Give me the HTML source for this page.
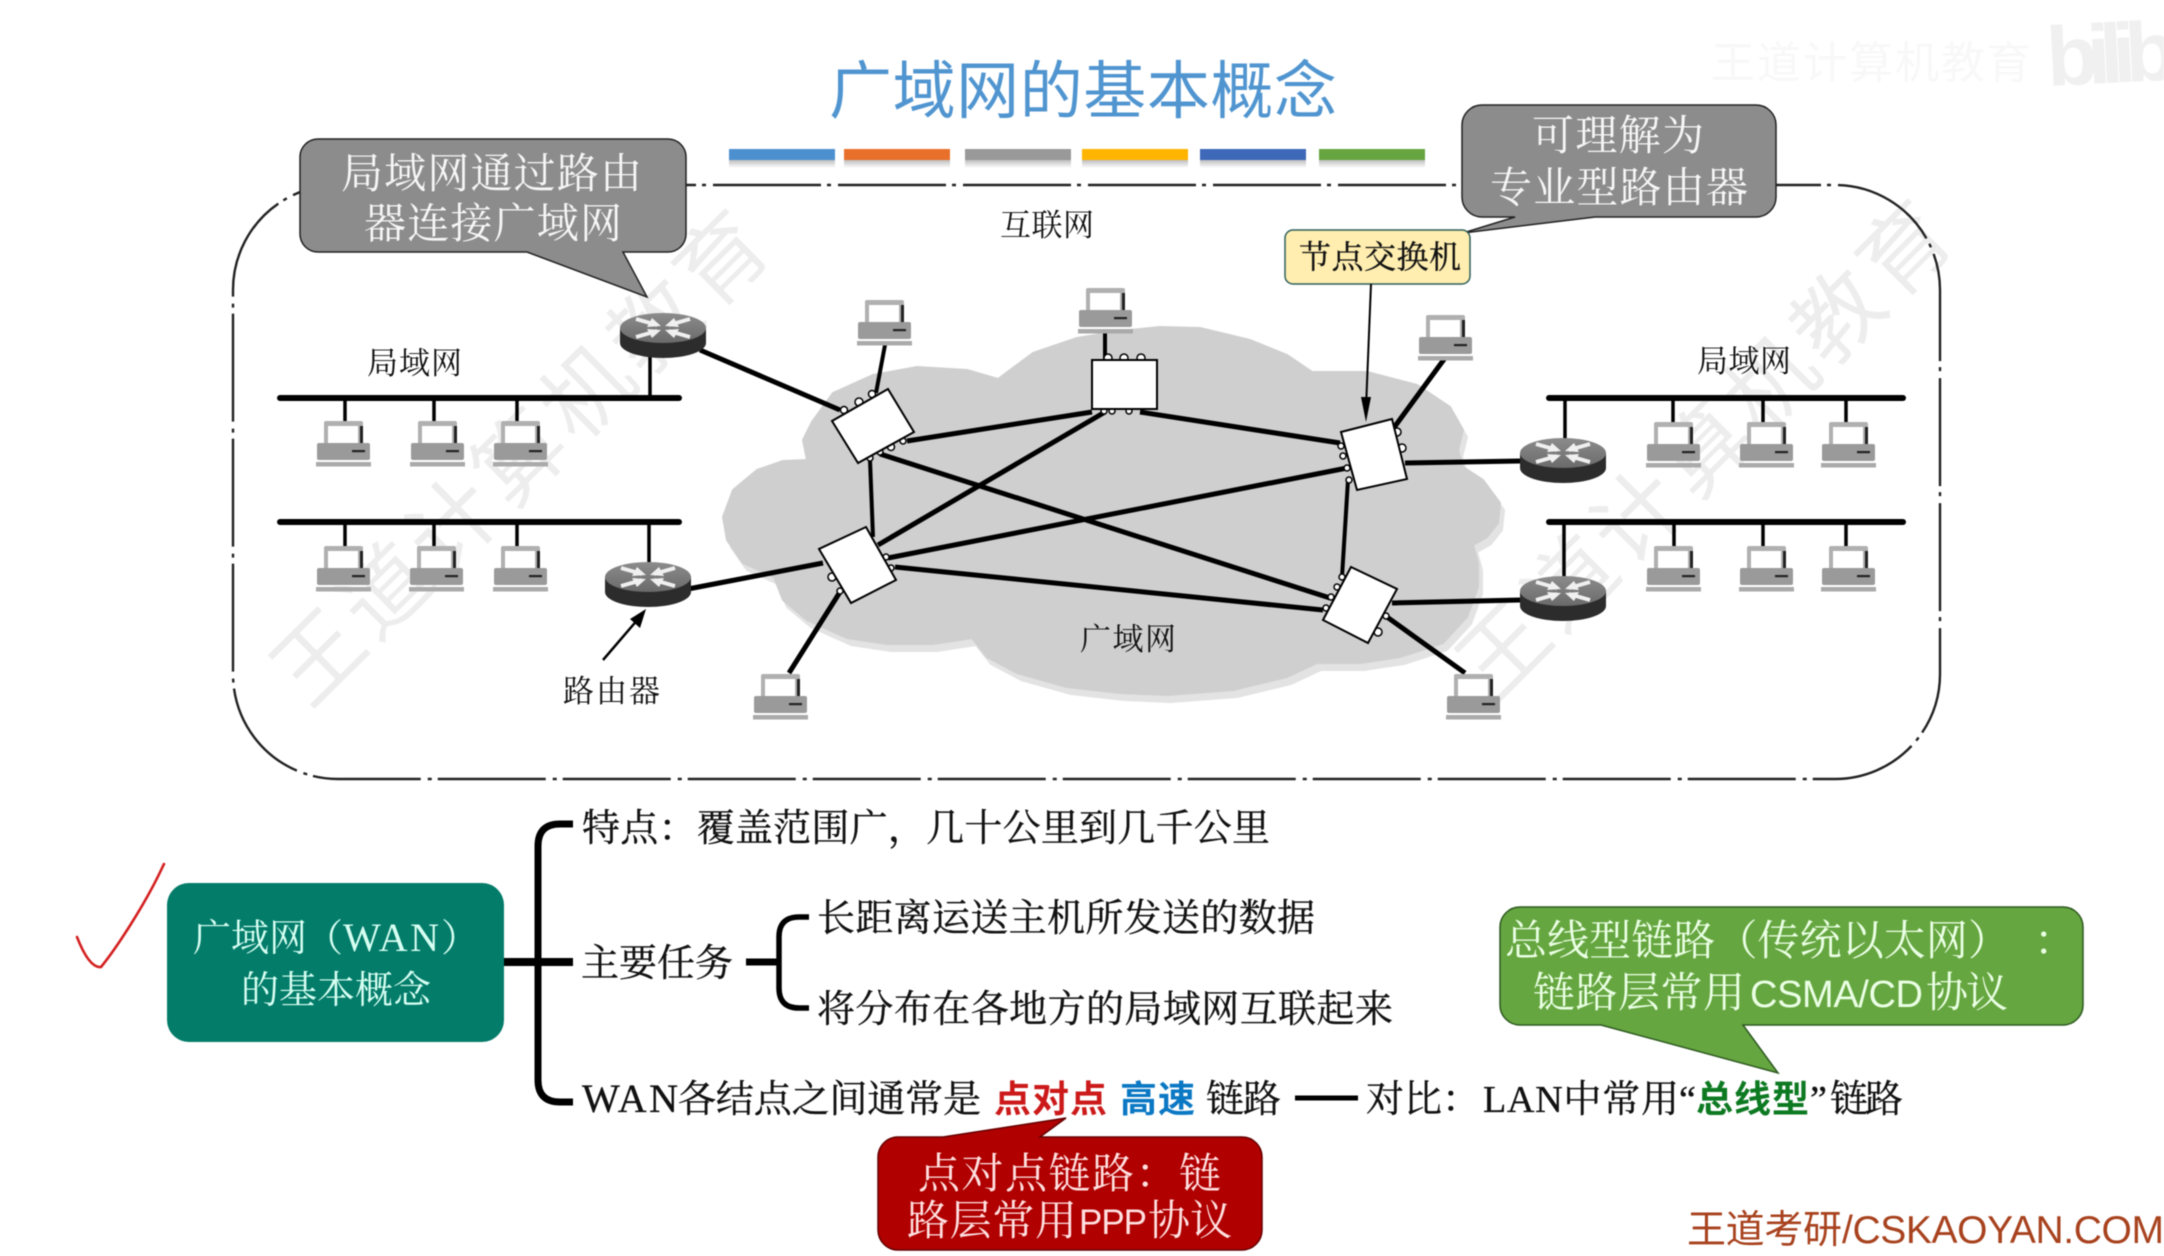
<!DOCTYPE html>
<html lang="zh"><head><meta charset="utf-8"><title>广域网的基本概念</title>
<style>
html,body{margin:0;padding:0;background:#fff;width:2164px;height:1256px;overflow:hidden}
svg{display:block;filter:blur(.5px)}
text{font-family:"Liberation Serif","Noto Serif CJK SC",serif;fill:#111}
.s{font-family:"Liberation Sans","Noto Sans CJK SC",sans-serif}
.b{font-family:"Liberation Sans","Noto Sans CJK SC",sans-serif;font-weight:700}
.w{fill:#f6f6f6}
.k{stroke:#111;stroke-width:.35}
.l{stroke:#000;stroke-width:5;fill:none}
.t{stroke:#000;stroke-width:4;fill:none}
.bus{stroke:#000;stroke-width:6;stroke-linecap:round}
.sw{fill:#fff;stroke:#000;stroke-width:2}
.bp{fill:#fff;stroke:#000;stroke-width:1.5}
</style></head><body>
<svg xmlns="http://www.w3.org/2000/svg" width="2164" height="1256" viewBox="0 0 2164 1256">
<defs>
<linearGradient id="sh" x1="0" y1="0" x2="0" y2="1"><stop offset="0" stop-color="#888" stop-opacity=".55"/><stop offset="1" stop-color="#888" stop-opacity="0"/></linearGradient>
<linearGradient id="rg" x1="0" y1="0" x2="0" y2="1"><stop offset="0" stop-color="#8c8c8c"/><stop offset="1" stop-color="#6a6a6a"/></linearGradient>
<g id="pc">
<rect x="8" y="1" width="39" height="24" rx="2" fill="#b0b0b0"/>
<rect x="12" y="6" width="30" height="19" fill="#fff"/>
<rect x="44" y="6" width="3" height="18" fill="#222"/>
<rect x="1" y="23" width="53" height="17" rx="2" fill="#9a9a9a"/>
<rect x="36" y="30" width="13" height="2.2" fill="#222"/>
<rect x="0" y="42" width="55" height="4.5" fill="#aaa"/>
</g>
<g id="rt">
<path d="M0,15 V30 A43,15 0 0 0 86,30 V15 Z" fill="#2c2c2c"/>
<ellipse cx="43" cy="15" rx="43" ry="15" fill="url(#rg)"/>
<path d="M16,6 L37,12 M70,6 L49,12 M16,24 L37,18 M70,24 L49,18" stroke="#f0f0f0" stroke-width="4" fill="none"/>
<path d="M32,5 L41,13 L27,14 Z M54,5 L45,13 L59,14 Z M32,25 L41,17 L27,16 Z M54,25 L45,17 L59,16 Z" fill="#f0f0f0"/>
</g>
</defs>

<!-- faint top-right marks -->
<text class="s" x="1711" y="78" font-size="44" textLength="320" style="fill:#f8f8f8">王道计算机教育</text>
<text class="b" x="2048" y="86" font-size="84" textLength="130" transform="rotate(-3 2048 86)" style="fill:#f0f0f0">bilib</text>

<!-- watermarks -->
<text class="s" x="309" y="710" font-size="88" textLength="654" transform="rotate(-44.6 309 710)" style="fill:#000;fill-opacity:.07">王道计算机教育</text>
<text class="s" x="1495" y="703" font-size="88" textLength="654" transform="rotate(-45 1495 703)" style="fill:#000;fill-opacity:.07">王道计算机教育</text>

<!-- title -->
<text class="s" x="829" y="113" font-size="63" textLength="508" style="fill:#5095d0">广域网的基本概念</text>
<!-- colour rails -->
<g>
<rect x="729" y="160" width="106" height="8" fill="url(#sh)"/><rect x="844" y="160" width="106" height="8" fill="url(#sh)"/><rect x="965" y="160" width="106" height="8" fill="url(#sh)"/><rect x="1082" y="160" width="106" height="8" fill="url(#sh)"/><rect x="1200" y="160" width="106" height="8" fill="url(#sh)"/><rect x="1319" y="160" width="106" height="8" fill="url(#sh)"/>
<rect x="729" y="149" width="106" height="11" fill="#4d90d0"/>
<rect x="844" y="149" width="106" height="11" fill="#e8702a"/>
<rect x="965" y="149" width="106" height="11" fill="#999"/>
<rect x="1082" y="149" width="106" height="11" fill="#ffb400"/>
<rect x="1200" y="149" width="106" height="11" fill="#3e68b8"/>
<rect x="1319" y="149" width="106" height="11" fill="#66a540"/>
</g>
<!-- dash-dot frame -->
<rect x="233" y="185" width="1707" height="594" rx="105" ry="105" fill="none" stroke="#222" stroke-width="2.4" stroke-dasharray="108 6 4 7"/>

<!-- cloud -->
<polygon transform="translate(4,7)" fill="#e3e3e3" stroke="#e3e3e3" stroke-width="2" stroke-linejoin="round" points="807,460 803,440 812,422 833,393 873,375 917,367 967,370 998,379 1033,353 1077,338 1120,331 1160,327 1200,328 1250,340 1287,355 1312,372 1367,372 1417,385 1450,407 1463,430 1458,450 1463,467 1483,480 1500,503 1498,523 1487,537 1473,545 1478,563 1478,587 1467,617 1443,643 1400,657 1360,663 1317,663 1287,677 1233,690 1167,695 1120,693 1067,687 1017,673 987,657 972,638 933,644 887,644 847,638 807,620 783,600 774,577 743,563 727,540 723,517 733,490 757,470 783,461"/>
<polygon fill="#cfcfcf" stroke="#cfcfcf" stroke-width="2" stroke-linejoin="round" points="807,460 803,440 812,422 833,393 873,375 917,367 967,370 998,379 1033,353 1077,338 1120,331 1160,327 1200,328 1250,340 1287,355 1312,372 1367,372 1417,385 1450,407 1463,430 1458,450 1463,467 1483,480 1500,503 1498,523 1487,537 1473,545 1478,563 1478,587 1467,617 1443,643 1400,657 1360,663 1317,663 1287,677 1233,690 1167,695 1120,693 1067,687 1017,673 987,657 972,638 933,644 887,644 847,638 807,620 783,600 774,577 743,563 727,540 723,517 733,490 757,470 783,461"/>

<!-- LAN buses and stems -->
<g class="bus"><line x1="280" y1="398" x2="679" y2="398"/><line x1="280" y1="522" x2="679" y2="522"/><line x1="1549" y1="398" x2="1903" y2="398"/><line x1="1549" y1="522" x2="1903" y2="522"/></g>
<g stroke="#000" stroke-width="3.5">
<path d="M345,398V421M434,398V421M517,398V421M650,398V356M345,522V546M434,522V546M517,522V546M649,522V564M1565,398V440M1673,398V422M1763,398V422M1846,398V422M1564,522V578M1674,522V546M1763,522V546M1846,522V546"/>
</g>

<!-- WAN links -->
<g class="l">
<path d="M700,350 L840,410"/>
<path d="M907,441 L1092,412"/>
<path d="M1140,412 L1340,443"/>
<path d="M1105,412 L878,545"/>
<path d="M880,454 L1330,598"/>
<path d="M888,558 L1347,468"/>
<path d="M895,567 L1323,610"/>
<path d="M1405,463 L1520,461"/>
<path d="M1392,603 L1520,600"/>
<path d="M1387,617 L1465,673"/>
<path d="M688,589 L823,563"/>
<path d="M840,592 L789,673"/>
<path d="M1390,433 L1445,358"/>
</g>
<g class="t">
<path d="M885,345 L876,393"/>
<path d="M1105,332 V360"/>
<path d="M870,460 L873,537"/>
<path d="M1348,480 L1342,577"/>
</g>

<!-- switches -->
<g>
<circle class="bp" cx="844" cy="410" r="3.5"/><circle class="bp" cx="859" cy="402" r="4"/><circle class="bp" cx="872" cy="394" r="3.5"/>
<circle class="bp" cx="880" cy="452" r="3"/><circle class="bp" cx="891" cy="447" r="3.5"/><circle class="bp" cx="903" cy="441" r="3"/><circle class="bp" cx="870" cy="458" r="3"/>
<polygon class="sw" points="888,389 914,432 858,463 832,421"/>
<circle class="bp" cx="1108" cy="358" r="4"/><circle class="bp" cx="1124" cy="358" r="4"/><circle class="bp" cx="1141" cy="358" r="4"/>
<circle class="bp" cx="1104" cy="411" r="3"/><circle class="bp" cx="1112" cy="411" r="3"/><circle class="bp" cx="1129" cy="411" r="3"/>
<rect class="sw" x="1092" y="360" width="65" height="49"/>
<circle class="bp" cx="1397" cy="432" r="4"/><circle class="bp" cx="1402" cy="448" r="4"/><circle class="bp" cx="1341" cy="446" r="3"/><circle class="bp" cx="1343" cy="456" r="3"/><circle class="bp" cx="1347" cy="468" r="3"/><circle class="bp" cx="1349" cy="480" r="3"/>
<polygon class="sw" points="1341,432 1392,419 1407,479 1357,490"/>
<circle class="bp" cx="886" cy="557" r="3"/><circle class="bp" cx="891" cy="568" r="3"/><circle class="bp" cx="832" cy="577" r="4"/><circle class="bp" cx="840" cy="591" r="3"/>
<polygon class="sw" points="866,527 896,580 851,603 819,549"/>
<circle class="bp" cx="1342" cy="577" r="3"/><circle class="bp" cx="1337" cy="587" r="3"/><circle class="bp" cx="1331" cy="597" r="3"/><circle class="bp" cx="1326" cy="608" r="3"/><circle class="bp" cx="1378" cy="632" r="4"/><circle class="bp" cx="1386" cy="616" r="3"/>
<polygon class="sw" points="1351,567 1397,589 1368,643 1323,620"/>
</g>

<!-- routers -->
<use href="#rt" x="620" y="313"/>
<use href="#rt" x="605" y="562"/>
<use href="#rt" x="1520" y="438"/>
<use href="#rt" x="1520" y="576"/>

<!-- PCs -->
<use href="#pc" x="316" y="420"/><use href="#pc" x="410" y="420"/><use href="#pc" x="493" y="420"/>
<use href="#pc" x="316" y="545"/><use href="#pc" x="409" y="545"/><use href="#pc" x="493" y="545"/>
<use href="#pc" x="857" y="299"/><use href="#pc" x="1078" y="287"/><use href="#pc" x="1418" y="314"/>
<use href="#pc" x="1646" y="421"/><use href="#pc" x="1739" y="421"/><use href="#pc" x="1821" y="421"/>
<use href="#pc" x="1646" y="545"/><use href="#pc" x="1739" y="545"/><use href="#pc" x="1821" y="545"/>
<use href="#pc" x="753" y="673"/><use href="#pc" x="1446" y="673"/>

<!-- router arrow -->
<path d="M603,660 L639,618" stroke="#000" stroke-width="2.5" fill="none"/>
<polygon points="646,609 640,628 630,619" fill="#000"/>

<!-- diagram labels -->
<text x="1000" y="236" font-size="31" textLength="94">互联网</text>
<text x="367" y="374" font-size="31" textLength="95">局域网</text>
<text x="1697" y="372" font-size="31" textLength="94">局域网</text>
<text x="1080" y="650" font-size="31" textLength="96">广域网</text>
<text x="563" y="702" font-size="31" textLength="97">路由器</text>

<!-- gray callout 1 -->
<path d="M318,139 H668 A18,18 0 0 1 686,157 V234 A18,18 0 0 1 668,252 H623 L647,297 L527,252 H318 A18,18 0 0 1 300,234 V157 A18,18 0 0 1 318,139 Z" fill="#8c8c8c" stroke="#222" stroke-width="1.5"/>
<text class="w" x="341" y="188" font-size="42" textLength="301">局域网通过路由</text>
<text class="w" x="364" y="238" font-size="42" textLength="258">器连接广域网</text>

<!-- gray callout 2 -->
<path d="M1482,105 H1756 A20,20 0 0 1 1776,125 V197 A20,20 0 0 1 1756,217 H1595 L1463,233 L1515,217 H1482 A20,20 0 0 1 1462,197 V125 A20,20 0 0 1 1482,105 Z" fill="#8c8c8c" stroke="#222" stroke-width="1.5"/>
<text class="w" x="1532" y="150" font-size="42" textLength="172">可理解为</text>
<text class="w" x="1490" y="202" font-size="42" textLength="258">专业型路由器</text>

<!-- yellow box -->
<rect x="1285" y="230" width="185" height="54" rx="8" fill="#ffeeb0" stroke="#2f5f5a" stroke-width="1.5"/>
<text class="k" x="1299" y="268" font-size="32" textLength="162">节点交换机</text>
<path d="M1371,284 L1366,408" stroke="#000" stroke-width="2" fill="none"/>
<polygon points="1366,422 1361,397 1371,397" fill="#000"/>

<!-- check -->
<path d="M77,937 C84,955 92,968 101,967 C115,950 145,905 163,866 L164,864" fill="none" stroke="#d42020" stroke-width="2.6" stroke-linecap="round"/>

<!-- teal box -->
<rect x="167" y="883" width="337" height="159" rx="22" fill="#047c6a"/>
<text x="193" y="951" font-size="38" textLength="114" style="fill:#d6fff2">广域网</text>
<text x="305" y="951" font-size="38" style="fill:#d6fff2">（</text>
<text x="343" y="951" font-size="40" textLength="96" style="fill:#d6fff2">WAN</text>
<text x="441" y="951" font-size="38" style="fill:#d6fff2">）</text>
<text x="241" y="1003" font-size="38" textLength="190" style="fill:#d6fff2">的基本概念</text>

<!-- brackets -->
<path d="M573,824 H560 Q538,824 538,846 V1080 Q538,1102 560,1102 H573" fill="none" stroke="#000" stroke-width="7"/>
<path d="M504,962 H573" stroke="#000" stroke-width="8"/>
<path d="M746,962 H779" stroke="#000" stroke-width="7"/>
<path d="M809,917 H799 Q779,917 779,937 V988 Q779,1008 799,1008 H809" fill="none" stroke="#000" stroke-width="5.5"/>

<!-- outline text -->
<text class="k" x="582" y="841" font-size="38" textLength="688">特点：覆盖范围广，几十公里到几千公里</text>
<text class="k" x="581" y="976" font-size="38" textLength="152">主要任务</text>
<text class="k" x="817" y="931" font-size="38" textLength="498">长距离运送主机所发送的数据</text>
<text class="k" x="817" y="1022" font-size="38" textLength="576">将分布在各地方的局域网互联起来</text>
<text class="k" x="582" y="1112" font-size="40" textLength="96">WAN</text>
<text class="k" x="678" y="1112" font-size="38" textLength="303">各结点之间通常是</text>
<text class="b" x="994" y="1112" font-size="37" textLength="113" style="fill:#cc1a1a">点对点</text>
<text class="b" x="1120" y="1112" font-size="37" textLength="75" style="fill:#0b78c4">高速</text>
<text class="k" x="1206" y="1112" font-size="38" textLength="75">链路</text>
<path d="M1295,1098 H1358" stroke="#000" stroke-width="5"/>
<text class="k" x="1366" y="1112" font-size="38">对比：</text>
<text class="k" x="1483" y="1112" font-size="38" textLength="196">LAN中常用</text>
<text class="k" x="1679" y="1112" font-size="38">“</text>
<text class="b" x="1696" y="1112" font-size="37" textLength="113" style="fill:#0d7a22">总线型</text>
<text class="k" x="1810" y="1112" font-size="38">”</text>
<text class="k" x="1830" y="1112" font-size="38" textLength="73">链路</text>

<!-- red callout -->
<path d="M898,1137 H943 L1066,1118 L1040,1137 H1242 A20,20 0 0 1 1262,1157 V1230 A20,20 0 0 1 1242,1250 H898 A20,20 0 0 1 878,1230 V1157 A20,20 0 0 1 898,1137 Z" fill="#b00000" stroke="#600" stroke-width="1.5"/>
<text x="918" y="1188" font-size="42" textLength="303" style="fill:#ffe0e0">点对点链路：链</text>
<text x="907" y="1235" font-size="42" textLength="170" style="fill:#ffe0e0">路层常用</text>
<text class="s" x="1079" y="1234" font-size="35" textLength="68" style="fill:#ffe0e0">PPP</text>
<text x="1148" y="1235" font-size="42" textLength="84" style="fill:#ffe0e0">协议</text>

<!-- green callout -->
<path d="M1520,907 H2063 A20,20 0 0 1 2083,927 V1005 A20,20 0 0 1 2063,1025 H1743 L1778,1073 L1601,1025 H1520 A20,20 0 0 1 1500,1005 V927 A20,20 0 0 1 1520,907 Z" fill="#66a640" stroke="#2d5a20" stroke-width="1.5"/>
<text x="1505" y="955" font-size="42" textLength="505" style="fill:#eaffe4">总线型链路（传统以太网）</text>
<text x="2034" y="955" font-size="42" style="fill:#eaffe4">：</text>
<text x="1533" y="1007" font-size="42" textLength="212" style="fill:#eaffe4">链路层常用</text>
<text class="s" x="1750" y="1007" font-size="38" textLength="173" style="fill:#eaffe4">CSMA/CD</text>
<text x="1926" y="1007" font-size="42" textLength="82" style="fill:#eaffe4">协议</text>

<!-- footer -->
<text class="s" x="1687" y="1243" font-size="39" textLength="155" style="fill:#a8421e">王道考研</text>
<text class="s" x="1842" y="1243" font-size="39" textLength="322" style="fill:#a8421e">/CSKAOYAN.COM</text>
</svg>
</body></html>
